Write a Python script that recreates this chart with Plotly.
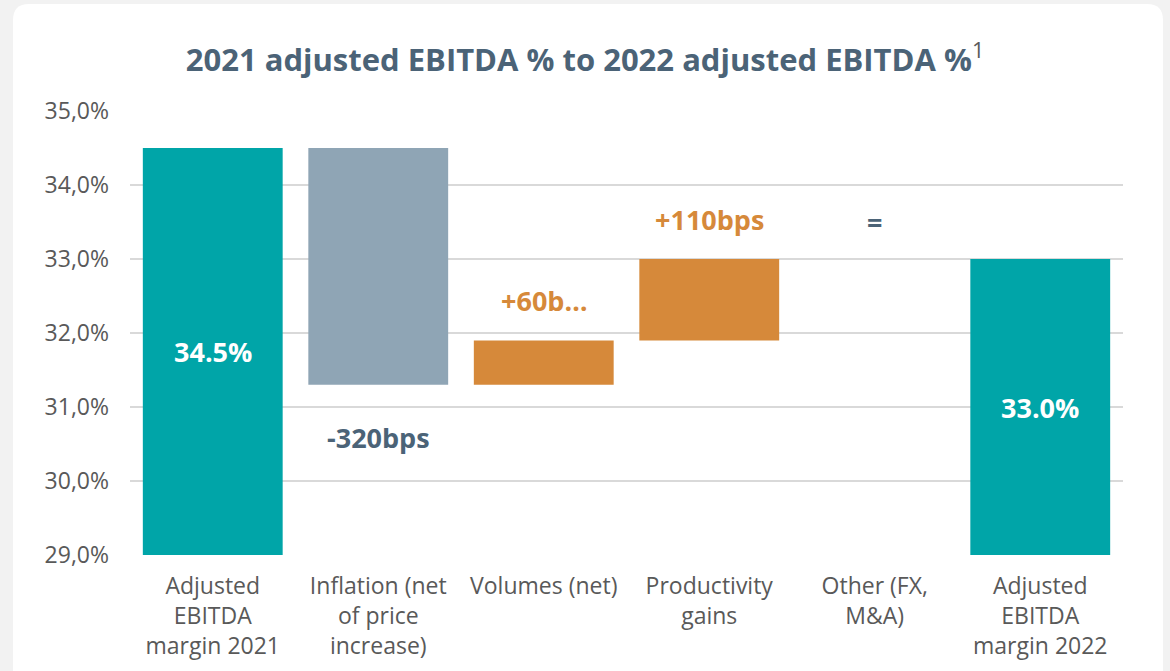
import plotly.graph_objects as go

categories = [
    "Adjusted<br>EBITDA<br>margin 2021",
    "Inflation (net<br>of price<br>increase)",
    "Volumes (net)",
    "Productivity<br>gains",
    "Other (FX,<br>M&A)",
    "Adjusted<br>EBITDA<br>margin 2022",
]
values = [34.5, -3.2, 0.6, 1.1, 0.0, 33.0]
measures = ["absolute", "relative", "relative", "relative", "relative", "total"]
labels = ["34.5%", "-320bps", "+60b…", "+110bps", "=", "33.0%"]
y_ticks = [29, 30, 31, 32, 33, 34, 35]
y_tick_text = ["29,0%", "30,0%", "31,0%", "32,0%", "33,0%", "34,0%", "35,0%"]

TEAL = "#00A5A8"
GREY = "#8FA5B5"
ORANGE = "#D6893A"
SLATE = "#4B6377"
FONT = "Open Sans"
Y_MIN = 29

fig = go.Figure()
fig.add_trace(go.Waterfall(
    x=categories,
    y=[v if m != "total" else 0 for v, m in zip(values, measures)],
    measure=measures,
    base=0,
    increasing=dict(marker=dict(color=ORANGE)),
    decreasing=dict(marker=dict(color=GREY)),
    totals=dict(marker=dict(color=TEAL)),
    connector=dict(visible=False),
    width=0.845,
    hoverinfo="skip",
    showlegend=False,
))

# label positions derived from data
running = 0.0
anns = []
for i, (cat, v, m, lab) in enumerate(zip(categories, values, measures, labels)):
    if m in ("absolute", "total"):
        if m == "absolute":
            running = v
        anns.append(dict(x=cat, y=(Y_MIN + running) / 2, text=lab, font=dict(color="white"), yanchor="middle"))
    else:
        running = running + v
        if v < 0:
            anns.append(dict(x=cat, y=running, text=lab, font=dict(color=SLATE), yanchor="top", yshift=-32))
        elif v > 0:
            anns.append(dict(x=cat, y=running, text=lab, font=dict(color=ORANGE), yanchor="bottom", yshift=19))
        else:
            anns.append(dict(x=cat, y=running, text=lab, font=dict(color=SLATE), yanchor="bottom", yshift=16))

for a in anns:
    a.update(xref="x", yref="y", showarrow=False)
    a["font"].update(family=FONT, size=27, weight="bold")
    fig.add_annotation(**a)

# rounded white card
L, R, T, B = 130, 1123, 111, 555
W, H = R - L, B - T
def px(x):
    return (x - L) / W
def py(y):
    return (B - y) / H
cx0, cx1, cy0, cy1, r = 13, 1163, 4, 700, 16
path = (
    f"M {px(cx0 + r)},{py(cy0)} L {px(cx1 - r)},{py(cy0)} "
    f"Q {px(cx1)},{py(cy0)} {px(cx1)},{py(cy0 + r)} "
    f"L {px(cx1)},{py(cy1)} L {px(cx0)},{py(cy1)} "
    f"L {px(cx0)},{py(cy0 + r)} Q {px(cx0)},{py(cy0)} {px(cx0 + r)},{py(cy0)} Z"
)
fig.add_shape(type="path", path=path, xref="paper", yref="paper",
              fillcolor="white", line=dict(width=0), layer="below")

fig.update_layout(
    width=1170, height=671,
    margin=dict(l=L, r=1170 - R, t=T, b=671 - B),
    paper_bgcolor="#F2F2F2",
    plot_bgcolor="rgba(0,0,0,0)",
    title=dict(
        text="2021 adjusted EBITDA % to 2022 adjusted EBITDA %<sup><span style='font-weight:normal;color:#595959'>1</span></sup>",
        x=0.5, xref="container", xanchor="center", y=0.91, yanchor="middle",
        font=dict(family=FONT, size=31, color=SLATE, weight="bold"),
    ),
    font=dict(family=FONT, color="#595959"),
    showlegend=False,
)
fig.update_yaxes(
    range=[Y_MIN, 35], tickvals=y_ticks, ticktext=y_tick_text,
    showgrid=True, gridcolor="#D9D9D9", gridwidth=2, zeroline=False,
    tickfont=dict(family=FONT, size=23, color="#595959"), ticks="",
    showline=False, automargin=False, ticklabelstandoff=20,
)
fig.update_xaxes(
    tickfont=dict(family=FONT, size=23, color="#595959"), showgrid=False,
    showline=False, ticks="", automargin=False, ticklabelstandoff=15,
)

fig.write_html("out.html", config={"displayModeBar": False},
               post_script="document.body.style.margin='0';")
